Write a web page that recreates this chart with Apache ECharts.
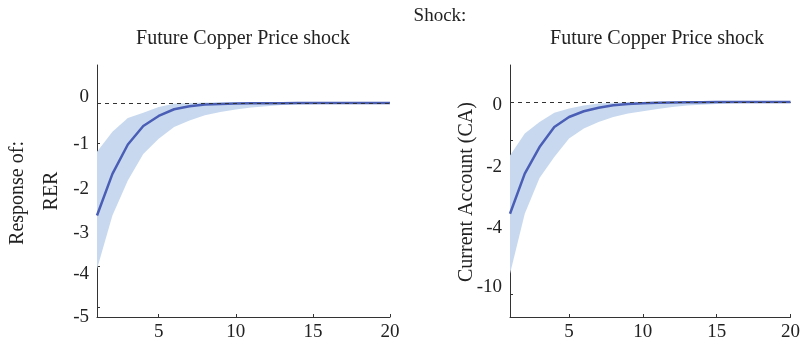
<!DOCTYPE html>
<html>
<head>
<meta charset="utf-8">
<script src="https://cdn.jsdelivr.net/npm/echarts@6/dist/echarts.min.js"></script>
<style>html,body{margin:0;padding:0;background:#fff}#c{width:803px;height:350px}</style>
</head>
<body>
<div id="c"></div>
<script>
// ---- data ----
var periods = [1,2,3,4,5,6,7,8,9,10,11,12,13,14,15,16,17,18,19,20];
var rerMean  = [-2.76,-1.74,-1.02,-0.565,-0.32,-0.155,-0.08,-0.04,-0.025,-0.015,-0.01,-0.007,-0.005,-0.003,-0.002,-0.001,-0.001,0,0,0];
var rerUpper = [-1.2,-0.71,-0.37,-0.24,-0.1,-0.02,0,0.01,0.01,0.01,0.01,0.005,0.005,0.003,0.002,0.002,0.001,0.001,0.001,0.001];
var rerLower = [-4.07,-2.76,-1.9,-1.25,-0.88,-0.59,-0.43,-0.30,-0.22,-0.16,-0.11,-0.08,-0.05,-0.04,-0.03,-0.02,-0.015,-0.01,-0.008,-0.005];
var caMean  = [-2.90,-1.86,-1.17,-0.65,-0.39,-0.24,-0.15,-0.086,-0.05,-0.03,-0.02,-0.012,-0.008,-0.005,-0.003,-0.002,-0.001,0,0,0];
var caUpper = [-1.39,-0.82,-0.52,-0.28,-0.17,-0.09,-0.04,-0.02,-0.005,0,0.005,0.005,0.005,0.003,0.002,0.002,0.001,0.001,0.001,0.001];
var caLower = [-4.46,-2.90,-1.97,-1.43,-0.95,-0.69,-0.52,-0.39,-0.30,-0.24,-0.18,-0.13,-0.09,-0.07,-0.05,-0.035,-0.025,-0.02,-0.015,-0.01];
var xTicks = [5,10,15,20];
var rerYTicks = [0,-1,-2,-3,-4,-5];
var rerYLabelPos = [0.15,-1,-2.1,-3.2,-4.2,-5.25];
var rerYLabels = ['0','-1','-2','-3','-4','-5'];
var caYTicks = [0,-1,-2,-3,-4,-5];
var caYLabelPos = [-0.08,-1.68,-3.28,-4.8];
var caYLabels = ['0','-2','-4','-10'];
var shockTitle = 'Shock:';
var panelTitle = 'Future Copper Price shock';

// ---- styles ----
var FONT = '"Liberation Serif", "DejaVu Serif", serif';
var TXT = '#222';
var LINE_C = '#4a5eb6';
var BAND_C = '#c8d9ef';
var AX_C = '#333';

function pairs(v){ return periods.map(function(p,i){ return [p, v[i]]; }); }
function lookup(pos, labels){
  return function(v){
    for (var i=0;i<pos.length;i++){ if (Math.abs(pos[i]-v) < 1e-6) return labels[i]; }
    return '';
  };
}

function xAxis(gi){
  return {
    type:'value', gridIndex:gi, min:1, max:20,
    axisLine:{show:true, onZero:false, lineStyle:{color:AX_C, width:1}},
    axisTick:{show:true, inside:true, length:3, customValues:xTicks, lineStyle:{color:AX_C}},
    axisLabel:{customValues:xTicks, fontFamily:FONT, fontSize:19, color:TXT, margin:6},
    splitLine:{show:false}
  };
}
function yAxis(gi, min, max, ticks, lpos, labels){
  return {
    type:'value', gridIndex:gi, min:min, max:max,
    axisLine:{show:true, onZero:false, lineStyle:{color:AX_C, width:1}},
    axisTick:{show:true, inside:true, length:3, customValues:ticks, lineStyle:{color:AX_C}},
    axisLabel:{customValues:lpos, formatter:lookup(lpos, labels), fontFamily:FONT, fontSize:19, color:TXT, margin:8},
    splitLine:{show:false}
  };
}
function bandSeries(gi, lower, upper){
  var data = periods.map(function(p,i){ return [p, lower[i], upper[i]]; });
  return {
    type:'custom', xAxisIndex:gi, yAxisIndex:gi, data:data, silent:true, z:1,
    encode:{x:0, y:[1,2]},
    renderItem:function(params, api){
      if (params.dataIndex !== 0) return null;
      var pts = [], i;
      for (i=0;i<data.length;i++) pts.push(api.coord([data[i][0], data[i][2]]));
      for (i=data.length-1;i>=0;i--) pts.push(api.coord([data[i][0], data[i][1]]));
      return {type:'polygon', shape:{points:pts}, style:{fill:BAND_C, stroke:null}};
    }
  };
}
function meanSeries(gi, v){
  return {type:'line', xAxisIndex:gi, yAxisIndex:gi, data:pairs(v), symbol:'none',
    lineStyle:{color:LINE_C, width:2.5}, z:3, silent:true};
}
function zeroSeries(gi){
  return {type:'line', xAxisIndex:gi, yAxisIndex:gi, data:[], z:5, silent:true,
    markLine:{silent:true, symbol:'none', label:{show:false},
      lineStyle:{color:'#333', type:[4,4], width:1}, data:[{yAxis:0}]}};
}

var chart = echarts.init(document.getElementById('c'), null, {renderer:'canvas'});
chart.setOption({
  animation:false,
  backgroundColor:'#fff',
  grid:[
    {left:97, top:65, width:293, height:252},
    {left:510, top:65, width:294, height:252}
  ],
  xAxis:[xAxis(0), xAxis(1)],
  yAxis:[
    yAxis(0, -5.25, 0.93, rerYTicks, rerYLabelPos, rerYLabels),
    yAxis(1, -5.58, 0.96, caYTicks, caYLabelPos, caYLabels)
  ],
  series: [
    bandSeries(0, rerLower, rerUpper), meanSeries(0, rerMean), zeroSeries(0),
    bandSeries(1, caLower, caUpper), meanSeries(1, caMean), zeroSeries(1)
  ],
  graphic:[
    {type:'text', x:440, y:16, style:{text:shockTitle, font:'19px '+FONT, fill:TXT, textAlign:'center', textVerticalAlign:'middle'}},
    {type:'text', x:243, y:39, style:{text:panelTitle, font:'20px '+FONT, fill:TXT, textAlign:'center', textVerticalAlign:'middle'}},
    {type:'text', x:657, y:39, style:{text:panelTitle, font:'20px '+FONT, fill:TXT, textAlign:'center', textVerticalAlign:'middle'}},
    {type:'text', x:18, y:193, rotation:Math.PI/2, style:{text:'Response of:', font:'20px '+FONT, fill:TXT, textAlign:'center', textVerticalAlign:'middle'}},
    {type:'text', x:52, y:191, rotation:Math.PI/2, style:{text:'RER', font:'20px '+FONT, fill:TXT, textAlign:'center', textVerticalAlign:'middle'}},
    {type:'text', x:467, y:192, rotation:Math.PI/2, style:{text:'Current Account (CA)', font:'20px '+FONT, fill:TXT, textAlign:'center', textVerticalAlign:'middle'}}
  ]
});
</script>
</body>
</html>
